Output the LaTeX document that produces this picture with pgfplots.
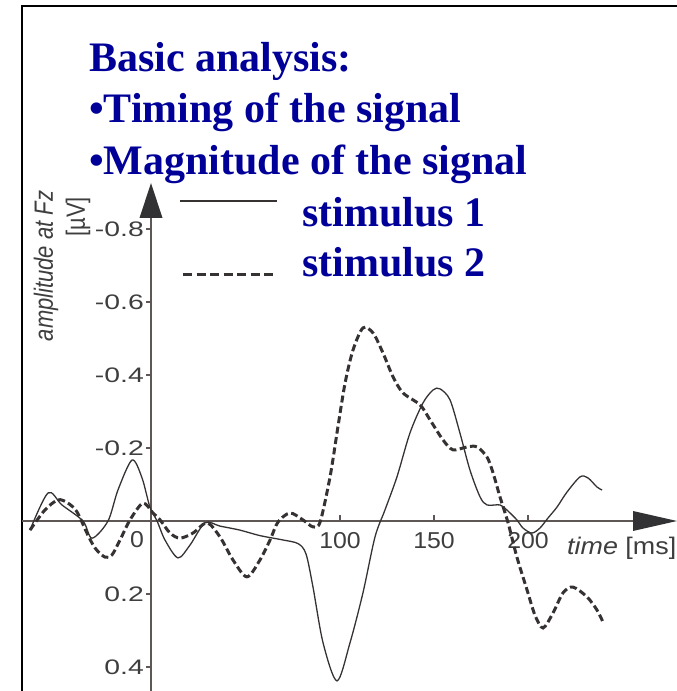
\documentclass[border=0pt]{standalone}
\usepackage{fontspec}
\setmainfont{Liberation Serif}
\newfontfamily\arial{Liberation Sans}
\usepackage{graphicx}
\usepackage{pgfplots}
\pgfplotsset{compat=1.18}
\definecolor{titleblue}{RGB}{0,0,153}
\definecolor{curve}{RGB}{55,50,50}
\definecolor{axisgray}{RGB}{95,87,85}
\definecolor{labelgray}{RGB}{62,62,62}
\definecolor{arrowgray}{RGB}{50,50,52}
\tikzset{ytl/.style={anchor=east, text=labelgray, font=\arial\fontsize{21}{26}\selectfont, inner sep=0pt, xshift=-8pt},
         xtl/.style={text=labelgray, font=\arial\fontsize{23}{27}\selectfont, inner sep=0pt, yshift=-20pt},
         tk/.style={axisgray, line width=1.4pt}}
\newcommand{\yl}[1]{\scalebox{1.35}[1]{#1}}
\newcommand{\xl}[1]{\scalebox{1.08}[1]{#1}}

\begin{document}
\begin{tikzpicture}
\useasboundingbox (0pt,0pt) rectangle (677pt,691pt);
% frame
\draw[line width=1.6pt, black] (22pt,0pt) -- (22pt,685pt) -- (677pt,685pt);

% title
\begin{scope}[every node/.style={anchor=base west, inner sep=0pt, text=titleblue, font=\fontsize{42}{50}\selectfont\bfseries}]
\node at (89pt,619pt) {Basic analysis:};
\node at (89pt,568pt) {•Timing of the signal};
\node at (89pt,516pt) {•Magnitude of the signal};
\node at (302pt,464pt) {stimulus 1};
\node at (302pt,414pt) {stimulus 2};
\end{scope}

% legend lines
\draw[curve, line width=1.2pt] (180pt,490pt) -- (277pt,490pt);
\draw[curve, line width=3pt, dash pattern=on 9pt off 4.5pt] (183pt,416pt) -- (277pt,416pt);

% y label
\node[rotate=90, text=labelgray, font=\arial\itshape\fontsize{22}{26}\selectfont, inner sep=0pt] at (46pt,425pt) {\scalebox{1}[1.2]{amplitude at Fz}};
\node[rotate=90, text=labelgray, font=\arial\fontsize{22}{26}\selectfont, inner sep=0pt] at (78pt,474pt) {\scalebox{1}[1.2]{[µV]}};

% axes lines and arrows
\draw[axisgray, line width=1.6pt] (151pt,0pt) -- (151pt,475pt);
\fill[arrowgray] (151pt,508pt) -- (139.5pt,473pt) -- (162.5pt,473pt) -- cycle;
\draw[axisgray, line width=1.6pt] (22pt,170pt) -- (635pt,170pt);
\fill[arrowgray] (677pt,170pt) -- (633pt,160pt) -- (633pt,180pt) -- cycle;

\node[anchor=west, text=labelgray, font=\arial\fontsize{24}{28}\selectfont, inner sep=0pt] at (567pt,143pt) {\scalebox{1.12}[1]{\textit{time} [ms]}};
\node[text=labelgray, font=\arial\fontsize{23}{27}\selectfont, inner sep=0pt] at (137pt,151pt) {\xl{0}};

\begin{axis}[
  at={(349.5pt,254pt)}, anchor=center,
  scale only axis, width=655pt, height=508pt,
  xmin=-69.149, xmax=279.255,
  ymin=-0.92603, ymax=0.46575,
  y dir=reverse,
  axis lines=none, clip=false,
]
% ticks
\draw[tk] (axis cs:0,-0.8) -- ++(-6pt,0pt);
\draw[tk] (axis cs:0,-0.6) -- ++(-6pt,0pt);
\draw[tk] (axis cs:0,-0.4) -- ++(-6pt,0pt);
\draw[tk] (axis cs:0,-0.2) -- ++(-6pt,0pt);
\draw[tk] (axis cs:0,0.2) -- ++(-6pt,0pt);
\draw[tk] (axis cs:0,0.4) -- ++(-6pt,0pt);
\node[ytl] at (axis cs:0,-0.8) {\yl{-0.8}};
\node[ytl] at (axis cs:0,-0.6) {\yl{-0.6}};
\node[ytl] at (axis cs:0,-0.4) {\yl{-0.4}};
\node[ytl] at (axis cs:0,-0.2) {\yl{-0.2}};
\node[ytl] at (axis cs:0,0.2) {\yl{0.2}};
\node[ytl] at (axis cs:0,0.4) {\yl{0.4}};
\draw[tk] (axis cs:100,0) -- ++(0pt,6pt);
\draw[tk] (axis cs:150,0) -- ++(0pt,6pt);
\draw[tk] (axis cs:200,0) -- ++(0pt,6pt);
\node[xtl] at (axis cs:100,0) {\xl{100}};
\node[xtl] at (axis cs:150,0) {\xl{150}};
\node[xtl] at (axis cs:200,0) {\xl{200}};

% stimulus 1 (thin solid)
\addplot[curve, line width=1.3pt, smooth, tension=0.5] coordinates {
(-64.9,0.025) (-55.3,-0.077) (-47.9,-0.044) (-36.7,0.000) (-31.9,0.047)
(-23.4,0.000) (-18.1,-0.085) (-10.6,-0.167) (-5.3,-0.118) (-1.1,-0.038)
(2.7,0.000) (6.9,0.052) (13.8,0.101) (20.2,0.066) (28.2,0.005)
(36.2,0.014) (46.8,0.025) (57.4,0.040) (69.7,0.052) (77.7,0.062)
(81.9,0.090) (85.6,0.180) (91.0,0.334) (98.4,0.438) (105.3,0.334)
(112.2,0.197) (118.6,0.044) (123.9,-0.030) (130.3,-0.121) (137.2,-0.241)
(144.1,-0.323) (149.5,-0.359) (153.2,-0.362) (158.5,-0.332) (163.8,-0.241)
(169.1,-0.140) (174.5,-0.066) (178.2,-0.044) (185.1,-0.044) (188.8,-0.030)
(194.1,-0.003) (197.3,0.019) (202.1,0.033) (206.4,0.019) (210.6,-0.008)
(215.4,-0.038) (220.7,-0.079) (227.7,-0.121) (231.9,-0.118) (236.7,-0.093)
(239.4,-0.085)
};

% stimulus 2 (thick dashed)
\addplot[curve, line width=3pt, dash pattern=on 7pt off 3.5pt, smooth, tension=0.5] coordinates {
(-64.9,0.025) (-57.0,-0.030) (-50.0,-0.058) (-44.7,-0.049) (-39.9,-0.025)
(-34.6,0.033) (-30.3,0.074) (-25.0,0.099) (-21.3,0.093) (-17.0,0.052)
(-11.7,-0.003) (-4.8,-0.049) (0.5,-0.022) (4.3,-0.003) (9.6,0.033)
(14.9,0.047) (21.8,0.033) (29.3,0.005) (36.2,0.044) (43.1,0.107)
(50.5,0.153) (57.4,0.107) (62.8,0.052) (67.0,0.003) (73.4,-0.022)
(80.3,-0.003) (85.6,0.016) (89.4,0.003) (94.7,-0.121) (98.9,-0.258)
(102.7,-0.378) (106.9,-0.468) (112.2,-0.529) (117.6,-0.515) (122.9,-0.460)
(128.2,-0.395) (133.5,-0.351) (142.6,-0.318) (147.9,-0.277) (154.8,-0.222)
(160.1,-0.195) (167.6,-0.203) (172.9,-0.203) (178.2,-0.175) (181.4,-0.132)
(185.1,-0.066) (189.4,0.005) (194.1,0.099) (199.5,0.189) (203.7,0.258)
(208.0,0.293) (213.3,0.252) (218.6,0.197) (223.9,0.181) (231.4,0.208)
(236.7,0.244) (239.9,0.277)
};
\end{axis}
\end{tikzpicture}
\end{document}
